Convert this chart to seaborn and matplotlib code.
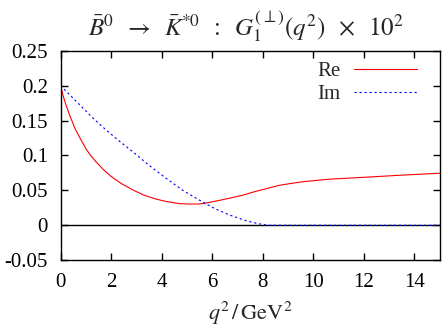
import pandas as pd
import seaborn as sns
import matplotlib.pyplot as plt
from matplotlib.ticker import FuncFormatter

# values
q2_re = [0, 0.1, 0.2, 0.38, 0.58, 0.77, 1.0, 1.17, 1.4, 1.69, 2.0, 2.42, 2.87,
         3.3, 3.73, 4.19, 4.71, 5.04, 5.5, 5.7, 6.2, 6.68, 7.2, 7.67, 8.2,
         8.65, 9.1, 9.63, 10.62, 12.06, 13.5, 15.0]
re_vals = [0.2, 0.186, 0.174, 0.156, 0.138, 0.125, 0.110, 0.101, 0.091, 0.080,
           0.070, 0.0595, 0.0505, 0.0432, 0.038, 0.034, 0.031, 0.0305, 0.0305,
           0.0315, 0.035, 0.0387, 0.043, 0.048, 0.053, 0.0572, 0.0598, 0.0625,
           0.066, 0.0688, 0.0718, 0.0745]

q2_im = [0, 0.25, 0.8, 1.3, 1.63, 2.28, 2.87, 3.5, 4.19, 4.84, 5.5, 6.1,
         6.68, 7.34, 7.8, 8.2, 15.0]
im_vals = [0.2, 0.191, 0.171, 0.153, 0.142, 0.122, 0.105, 0.086, 0.067, 0.050,
           0.036, 0.024, 0.0148, 0.0066, 0.0025, 0.0, 0.0]

x_ticks = [0, 2, 4, 6, 8, 10, 12, 14]
y_ticks = [-0.05, 0, 0.05, 0.1, 0.15, 0.2, 0.25]

sns.set_style("ticks")
plt.rcParams['font.family'] = ['Liberation Serif', 'DejaVu Serif']
plt.rcParams['mathtext.fontset'] = 'stix'

fig = plt.figure(figsize=(4.43, 3.28), dpi=100)
ax = fig.add_axes([0.1366, 0.2067, 0.8555, 0.6387])

re_df = pd.DataFrame({'q2': q2_re, 'val': re_vals})
im_df = pd.DataFrame({'q2': q2_im, 'val': im_vals})

ax.axhline(0, color='black', lw=1.0)
sns.lineplot(data=re_df, x='q2', y='val', ax=ax, color='#ff0000', lw=0.8, label='Re')
sns.lineplot(data=im_df, x='q2', y='val', ax=ax, color='#0000ff', lw=0.8, label='Im')
ax.lines[-1].set_dashes((2, 2.5))

ax.set_xlim(0, 15)
ax.set_ylim(-0.05, 0.25)
ax.set_xticks(x_ticks)
ax.set_yticks(y_ticks)
ax.yaxis.set_major_formatter(FuncFormatter(lambda v, p: f"{v:g}"))
ax.tick_params(direction='in', top=True, right=True, labelsize=15, length=5,
               width=1.0, colors='black')
ax.tick_params(axis='y', pad=9)
ax.tick_params(axis='x', pad=9)
for s in ax.spines.values():
    s.set_linewidth(1.0)
    s.set_color('black')

ax.set_xlabel(r'$q^2\,/\,\mathrm{GeV}^2$', fontsize=16, labelpad=6)
ax.set_ylabel('')
ax.set_title(r'$\bar{B}^0\;\;\rightarrow\;\;\bar{K}^{*0}\;\;:\;\;G_1^{(\perp)}(q^2)\;\;\times\;\;10^2$',
             fontsize=18, pad=11, x=0.49)

ax.legend(loc='upper right', bbox_to_anchor=(1.0, 1.057), markerfirst=False,
          frameon=False, fontsize=15, handlelength=3.0, handletextpad=0.65,
          borderaxespad=0.9, borderpad=0.2, labelspacing=0.15)

fig.savefig('out.png', dpi=100)
